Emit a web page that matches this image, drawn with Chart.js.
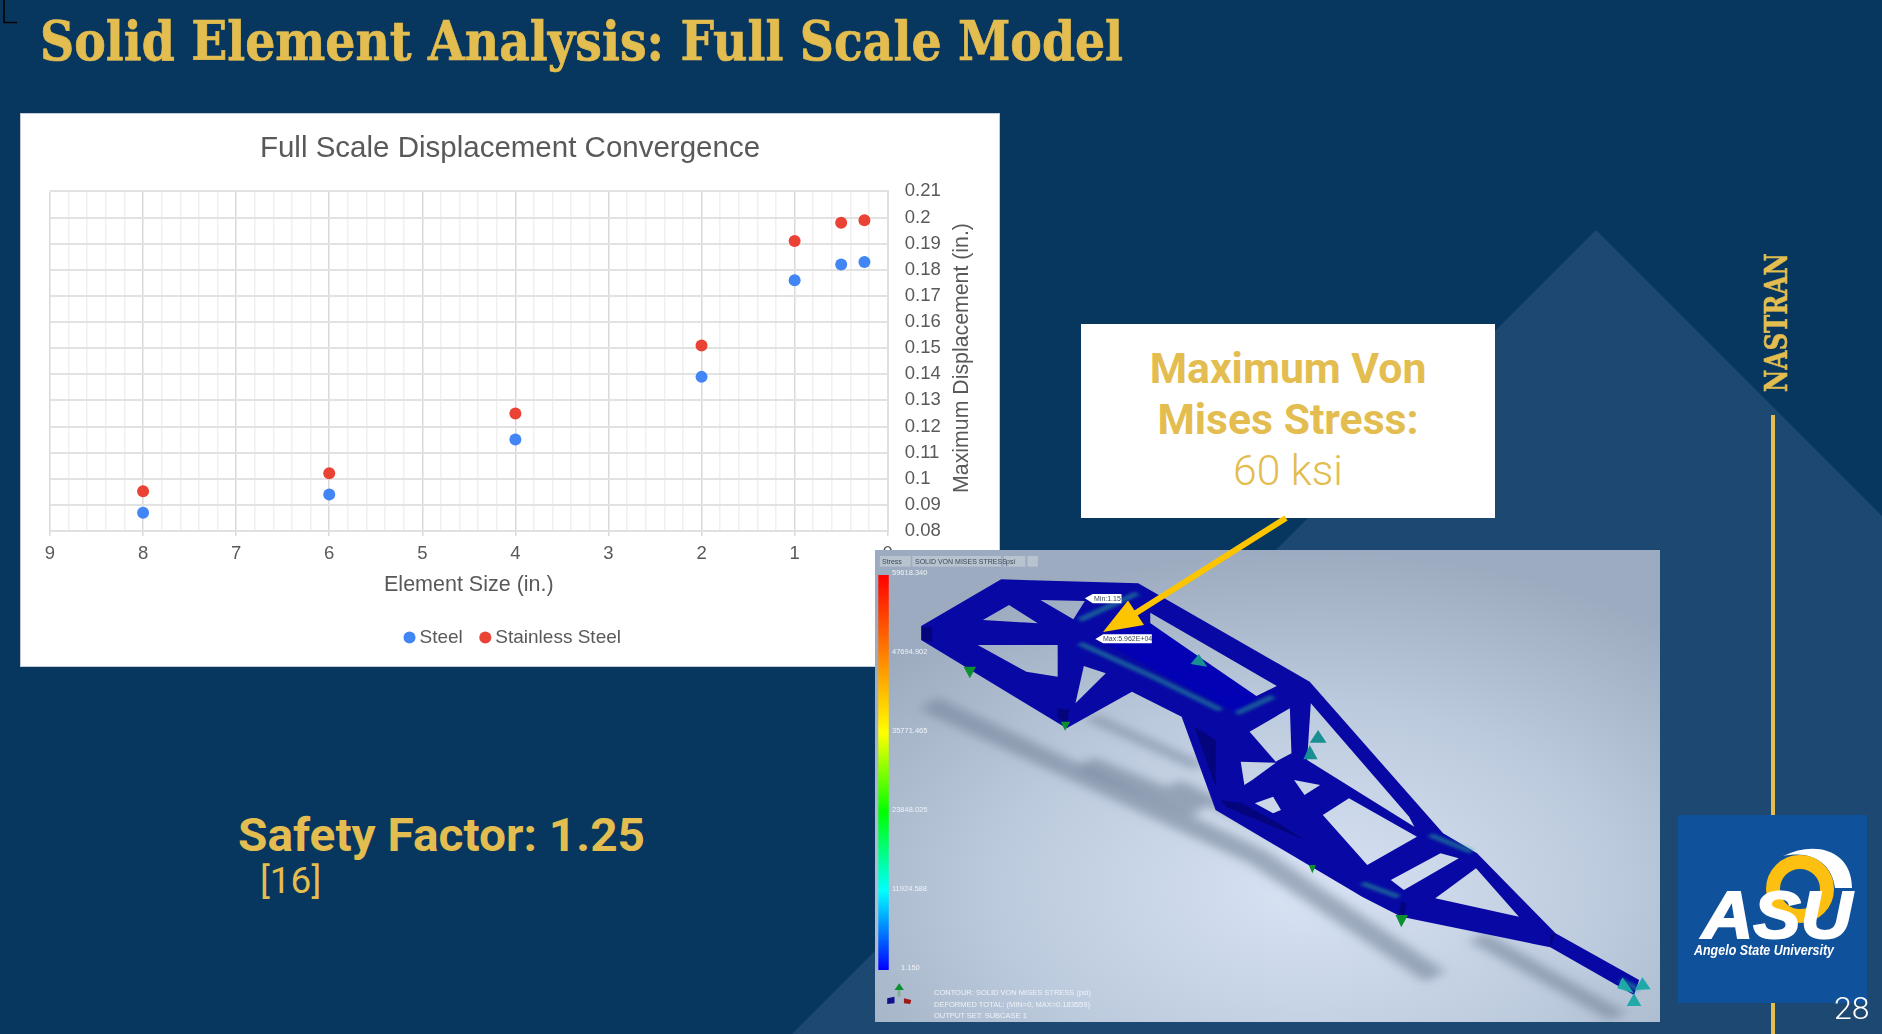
<!DOCTYPE html>
<html>
<head>
<meta charset="utf-8">
<title>Solid Element Analysis: Full Scale Model</title>
<script src="https://cdn.jsdelivr.net/npm/chart.js@4/dist/chart.umd.min.js"></script>
<style>
  html, body { margin: 0; padding: 0; background: #07375f; overflow: hidden; }
  #slide { position: relative; width: 1882px; height: 1034px; overflow: hidden; }
  #slide svg { position: absolute; left: 0; top: 0; }
  #card {
    position: absolute; left: 21px; top: 114px; width: 978px; height: 552px;
    background: #fff; box-shadow: 0 0 0 1px #c3cad6;
  }
</style>
</head>
<body>
<div id="slide">
  <svg width="1882" height="1034">
    <polygon points="1596,230 1882,516 1882,1034 792,1034" fill="#1c4871"/>
    <path d="M4,0 V22.5 H17" fill="none" stroke="#000" stroke-width="1.6"/>
    <text x="40" y="60" textLength="1083" lengthAdjust="spacingAndGlyphs" font-family="DejaVu Serif Condensed" font-weight="700" font-size="55" stroke="#e3bd4f" stroke-width="0.7" fill="#e3bd4f">Solid Element Analysis: Full Scale Model</text>
    <text x="238" y="851" font-family="Roboto" font-weight="700" font-size="46" textLength="407" lengthAdjust="spacingAndGlyphs" fill="#e3bd4f">Safety Factor: 1.25</text>
    <text x="260" y="893" font-family="Roboto" font-weight="400" font-size="37" fill="#e3bd4f">[16]</text>
  </svg>

  <div id="card"><canvas id="convergenceChart"></canvas></div>

  <svg width="1882" height="1034">
    <defs>
      <radialGradient id="feaBg" cx="55%" cy="72%" r="72%">
        <stop offset="0" stop-color="#d8e3f4"/>
        <stop offset="0.55" stop-color="#bccadd"/>
        <stop offset="1" stop-color="#9dabc0"/>
      </radialGradient>
      <linearGradient id="stressBar" x1="0" y1="0" x2="0" y2="1">
        <stop offset="0" stop-color="#ff0000"/>
        <stop offset="0.2" stop-color="#ff8000"/>
        <stop offset="0.4" stop-color="#ffff00"/>
        <stop offset="0.6" stop-color="#00ff00"/>
        <stop offset="0.8" stop-color="#00ffff"/>
        <stop offset="1" stop-color="#0000ff"/>
      </linearGradient>
      <filter id="soft" x="-20%" y="-20%" width="140%" height="140%"><feGaussianBlur stdDeviation="12"/></filter>
      <filter id="glow" x="-20%" y="-20%" width="140%" height="140%"><feGaussianBlur stdDeviation="4"/></filter>
      <clipPath id="feaClip"><rect x="875" y="550" width="785" height="472"/></clipPath>
    </defs>

    <rect x="1771" y="415" width="4" height="619" fill="#e3bd4f"/>
    <text transform="translate(1787 392) rotate(-90)" textLength="139" lengthAdjust="spacingAndGlyphs" font-family="DejaVu Serif" font-weight="700" font-size="32" stroke="#e3bd4f" stroke-width="0.6" fill="#e3bd4f">NASTRAN</text>

    <!-- callout -->
    <rect x="1081" y="324" width="414" height="194" fill="#fff"/>
    <g font-family="Roboto" fill="#e3bd4f" text-anchor="middle" font-size="42.7">
      <text x="1288" y="383" font-weight="700">Maximum Von</text>
      <text x="1288" y="434" font-weight="700">Mises Stress:</text>
      <text x="1288" y="485" font-weight="300">60 ksi</text>
    </g>

    <!-- FEA result picture -->
    <g clip-path="url(#feaClip)">
      <rect x="875" y="550" width="785" height="472" fill="url(#feaBg)"/>
      <g transform="translate(860 540) scale(0.52296 0.33333)">
        <g filter="url(#soft)" fill="none" stroke="#75849a" stroke-opacity="0.6">
          <path d="M130,490 L760,950 L1100,1310" stroke-width="50"/>
          <path d="M1180,1190 L1450,1430" stroke-width="40"/>
          <path d="M430,670 L650,810" stroke-width="50"/>
          <path d="M440,530 L650,680" stroke-width="25"/>
          <path d="M600,730 L830,900" stroke-width="30"/>
        </g>
        <path fill="#0808a4" fill-rule="evenodd" d="M117,258 L270,118 L532,130 L860,425 L1115,880 L1180,940 L1330,1180 L1490,1320 L1480,1365 L1320,1222 L1035,1130 L960,1070 L680,810 L615,530 L520,455 L395,565 L117,300 Z
          M235,240 L285,195 L340,250 Z
          M345,180 L430,183 L408,238 Z
          M225,315 L378,315 L378,410 L318,395 Z
          M428,378 L470,400 L412,490 Z
          M555,218 L797,438 L755,470 L555,250 Z
          M862,490 L1050,830 L1060,860 L855,660 Z
          M745,575 L822,505 L825,640 L795,665 Z
          M728,665 L795,668 L750,720 L735,735 Z
          M830,720 L880,735 L850,765 Z
          M755,790 L790,770 L805,810 L790,820 Z
          M885,825 L935,775 L1065,890 L970,975 Z
          M1110,940 L1145,955 L1040,1050 L1015,1020 Z
          M1100,1075 L1178,985 L1260,1130 Z"/>
        <g fill="#04047c">
          <polygon points="640,560 680,600 680,740"/>
          <polygon points="118,262 138,262 138,305 118,300"/>
          <polygon points="378,505 400,510 395,560 378,530"/>
          <polygon points="1035,1085 1045,1090 1040,1128 1030,1125"/>
          <polygon points="690,780 730,790 800,850 850,900 700,800"/>
          <polygon points="1320,1185 1330,1180 1320,1220"/>
        </g>
        <polygon points="445,290 555,250 760,470 720,520" fill="#0202b4"/>
        <g fill="none" stroke="#1f9c95" stroke-width="14" stroke-opacity="0.55" filter="url(#glow)">
          <path d="M420,310 L560,410 L690,510"/>
          <path d="M420,240 L530,160"/>
          <path d="M720,520 L790,470"/>
          <path d="M960,1030 L1030,1070"/>
          <path d="M1090,885 L1170,935"/>
          <path d="M1455,1320 L1490,1350"/>
        </g>
        <g fill="#0c8f2e">
          <polygon points="198,380 222,380 210,415"/>
          <polygon points="384,545 402,545 392,572"/>
          <polygon points="858,975 872,975 865,1000"/>
          <polygon points="1024,1125 1048,1125 1035,1162"/>
        </g>
        <g fill="#1a8f93">
          <polygon points="648,342 664,380 632,372"/>
          <polygon points="876,570 892,608 860,608"/>
          <polygon points="860,615 875,658 848,658"/>
          <polygon points="1458,1312 1480,1360 1448,1345" fill="#21a9aa"/>
          <polygon points="1496,1312 1512,1348 1482,1350" fill="#21a9aa"/>
          <polygon points="1480,1360 1494,1398 1466,1398" fill="#21a9aa"/>
        </g>
        <rect x="38" y="48" width="59" height="32" fill="#b9c2cf"/>
        <rect x="100" y="48" width="170" height="32" fill="#b9c2cf"/>
        <rect x="275" y="48" width="41" height="32" fill="#b9c2cf"/>
        <rect x="320" y="48" width="20" height="32" fill="#b9c2cf"/>
        <rect x="35" y="105" width="20" height="1185" fill="url(#stressBar)"/>
        <polygon points="430,175 445,162 500,162 500,190 445,190" fill="#fff"/>
        <polygon points="450,297 465,283 558,283 558,310 465,310" fill="#fff"/>
        <polygon points="75,1330 66,1350 84,1350" fill="#0c8f2e"/>
        <rect x="72" y="1350" width="5" height="20" fill="#7fb08c"/>
        <polygon points="52,1375 66,1370 66,1390 52,1392" fill="#10108c"/>
        <polygon points="84,1375 98,1380 96,1392 84,1390" fill="#a01818"/>
      </g>
      <g font-family="Liberation Sans" font-size="7.5" fill="#eef2f7">
        <text x="892" y="575">59618.340</text>
        <text x="892" y="654">47694.902</text>
        <text x="892" y="733">35771.465</text>
        <text x="892" y="812">23848.025</text>
        <text x="892" y="891">11924.588</text>
        <text x="901" y="970">1.150</text>
        <text x="934" y="995">CONTOUR: SOLID VON MISES STRESS (psi)</text>
        <text x="934" y="1006.5">DEFORMED TOTAL: (MIN=0, MAX=0.183559)</text>
        <text x="934" y="1018">OUTPUT SET: SUBCASE 1</text>
      </g>
      <g font-family="Liberation Sans" font-size="7" fill="#3c4a5c">
        <text x="882" y="564">Stress</text>
        <text x="915" y="564">SOLID VON MISES STRESS</text>
        <text x="1006" y="564">psi</text>
        <text x="1094" y="601">Min:1.15</text>
        <text x="1103" y="641">Max:5.962E+04</text>
      </g>
    </g>

    <!-- arrow -->
    <line x1="1286" y1="518" x2="1128" y2="618" stroke="#fdc400" stroke-width="6"/>
    <polygon points="1103,632 1128,600.5 1144,625" fill="#fdc400"/>

    <!-- logo -->
    <rect x="1678" y="815" width="189" height="188" fill="#10519b"/>
    <path d="M1783,856 C1815,840 1852,850 1852,888 L1835,888 C1832,862 1810,850 1783,856 Z" fill="#fff"/>
    <circle cx="1800" cy="889" r="27" fill="none" stroke="#fdc010" stroke-width="14"/>
    <text x="1702" y="938" textLength="150" lengthAdjust="spacingAndGlyphs" font-family="Liberation Sans" font-weight="700" font-style="italic" font-size="66" stroke="#fff" stroke-width="2" fill="#fff">ASU</text>
    <text x="1694" y="955" textLength="140" lengthAdjust="spacingAndGlyphs" font-family="Liberation Sans" font-weight="700" font-style="italic" font-size="14" fill="#fff">Angelo State University</text>

    <text x="1834" y="1019" font-family="Roboto" font-weight="300" font-size="32" fill="#fff">28</text>
  </svg>
</div>

<script>
// values
const elementSize = [8, 6, 4, 2, 1, 0.5, 0.25];
const steelDisp = [0.087, 0.094, 0.115, 0.139, 0.176, 0.182, 0.183];
const stainlessDisp = [0.0952, 0.1021, 0.125, 0.151, 0.191, 0.198, 0.199];

const seriesNames = ['Steel', 'Stainless Steel'];
const seriesColors = ['#4285f4', '#ea4335'];

const chartTitle = 'Full Scale Displacement Convergence';
const xAxisTitle = 'Element Size (in.)';
const yAxisTitle = 'Maximum Displacement (in.)';

const textColor = '#595959';
const fontName = '"Liberation Sans", Arial, sans-serif';

const toPoints = (ys) => elementSize.map((x, i) => ({ x: x, y: ys[i] }));
const isWhole = (v) => Math.abs(v - Math.round(v)) < 1e-6;

// right-hand axis title reads bottom to top here, Chart.js would turn it the other way
// legend also sits a little right of centre in the original
const slidePlugin = {
    id: 'slideTweaks',
    afterLayout(chart) {
        chart.legend.left += 5;
        chart.legend.right += 5;
    },
    afterDraw(chart) {
        const { ctx } = chart;
        ctx.save();
        ctx.translate(941.5, 244);
        ctx.rotate(-Math.PI / 2);
        ctx.font = '21.3px ' + fontName;
        ctx.fillStyle = textColor;
        ctx.textAlign = 'center';
        ctx.textBaseline = 'middle';
        ctx.fillText(yAxisTitle, 0, 0);
        ctx.restore();
    }
};

new Chart(document.getElementById('convergenceChart'), {
    type: 'scatter',
    data: {
        datasets: [
            { label: seriesNames[0], data: toPoints(steelDisp), backgroundColor: seriesColors[0], borderWidth: 0, pointRadius: 6 },
            { label: seriesNames[1], data: toPoints(stainlessDisp), backgroundColor: seriesColors[1], borderWidth: 0, pointRadius: 6 }
        ]
    },
    options: {
        responsive: true,
        maintainAspectRatio: false,
        animation: false,
        layout: { padding: { left: 29, right: 29, top: 0, bottom: 9 } },
        plugins: {
            title: {
                display: true,
                text: chartTitle,
                color: textColor,
                font: { family: fontName, size: 29.5, weight: 'normal' },
                padding: { top: 17, bottom: 25 }
            },
            legend: {
                position: 'bottom',
                labels: {
                    usePointStyle: true,
                    pointStyle: 'circle',
                    boxHeight: 8.5,
                    boxWidth: 1,
                    color: textColor,
                    font: { family: fontName, size: 19 },
                    padding: 22
                }
            },
            tooltip: { enabled: false }
        },
        scales: {
            x: {
                type: 'linear',
                reverse: true,
                min: 0,
                max: 9,
                title: {
                    display: true,
                    text: xAxisTitle,
                    color: textColor,
                    font: { family: fontName, size: 21.5 },
                    padding: { top: 0, bottom: 8 }
                },
                grid: {
                    lineWidth: 1.5,
                    color: (ctx) => isWhole(ctx.tick.value) ? '#d9d9d9' : '#f0f0f0',
                    tickColor: (ctx) => isWhole(ctx.tick.value) ? '#d9d9d9' : 'transparent',
                    tickLength: 5
                },
                border: { color: '#e0e0e0', width: 2 },
                ticks: {
                    stepSize: 0.2,
                    autoSkip: false,
                    maxRotation: 0,
                    color: textColor,
                    font: { family: fontName, size: 18.5 },
                    padding: 7,
                    callback: (v) => isWhole(v) ? String(Math.round(v)) : ''
                }
            },
            y: {
                position: 'right',
                min: 0.08,
                max: 0.21,
                grid: { lineWidth: 2, color: '#e2e2e2', drawTicks: false },
                border: { color: '#e0e0e0', width: 2 },
                ticks: {
                    stepSize: 0.01,
                    color: textColor,
                    font: { family: fontName, size: 18.5 },
                    padding: 17,
                    callback: (v) => String(Number(v.toFixed(2)))
                },
                afterFit: (scale) => { scale.width = 82.3; }
            }
        }
    },
    plugins: [slidePlugin]
});
</script>
</body>
</html>
